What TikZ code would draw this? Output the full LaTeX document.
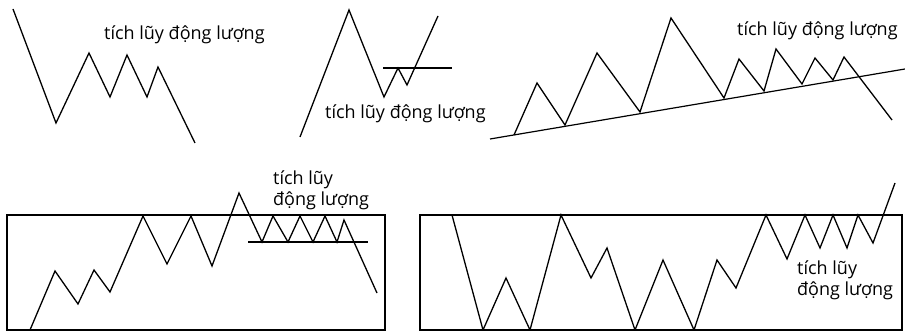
\documentclass[tikz,border=0pt]{standalone}
\usepackage{fontspec}
\setmainfont{Open Sans}
\usetikzlibrary{positioning}

\begin{document}
\begin{tikzpicture}[
    x=1pt, y=-1pt,
    price/.style={line width=1.3pt, line join=miter},
    level/.style={line width=1.2pt},
    lbl/.style={font=\fontsize{18}{21}\selectfont, inner sep=0pt, anchor=base west},
    lbltwo/.style={font=\fontsize{18}{21}\selectfont, inner sep=0pt, align=left, anchor=base west}
]
\useasboundingbox (0,0) rectangle (905,331);
% panel 1
\draw[price] (13,9) -- (56,123) -- (89,53) -- (110,97) -- (127,55) -- (147,97) -- (158,67) -- (195,143);
\node[lbl] (acc1) at (104,40) {tích lũy động lượng};
% panel 2
\draw[price] (300,137) -- (349,10) -- (384,97) -- (398,68) -- (407,85) -- (438,16);
\draw[level] (383,68) -- (452,68);
\node[lbl] (acc2) at (325,119) {tích lũy động lượng};
% panel 3
\draw[level] (490,139) -- (905,69);
\draw[price] (514,135) -- (537,83) -- (565,125) -- (597,53) -- (640,112) -- (671,18) -- (724,98) -- (739,59) -- (764,91) -- (776,49) -- (802,84) -- (815,58) -- (833,80) -- (844,57) -- (892,120);
\node[lbl] (acc3) at (737,36) {tích lũy động lượng};
% panel 4
\draw[level] (7,215) rectangle (385,330);
\draw[level] (248,242) -- (368,242);
\draw[price] (30,330) -- (55,271) -- (78,304) -- (94,270) -- (110,292) -- (143,216) -- (167,264) -- (191,216) -- (212,266) -- (239,193) -- (262,242) -- (273,216) -- (288,242) -- (300,216) -- (313,242) -- (325,216) -- (337,242) -- (344,220) -- (377,293);
\node[lbltwo] (acc4) at (273,206) {tích lũy\\động lượng};
% panel 5
\draw[level] (420,215) rectangle (902,330);
\draw[price] (452,215) -- (483,330) -- (506,278) -- (530,330) -- (561,215) -- (591,278) -- (607,248) -- (635,330) -- (663,260) -- (694,330) -- (717,260) -- (736,288) -- (766,215) -- (787,259) -- (805,215) -- (820,248) -- (833,215) -- (847,248) -- (858,215) -- (873,243) -- (895,183);
\node[lbltwo] (acc5) at (797,295) {tích lũy\\động lượng};
\end{tikzpicture}
\end{document}
